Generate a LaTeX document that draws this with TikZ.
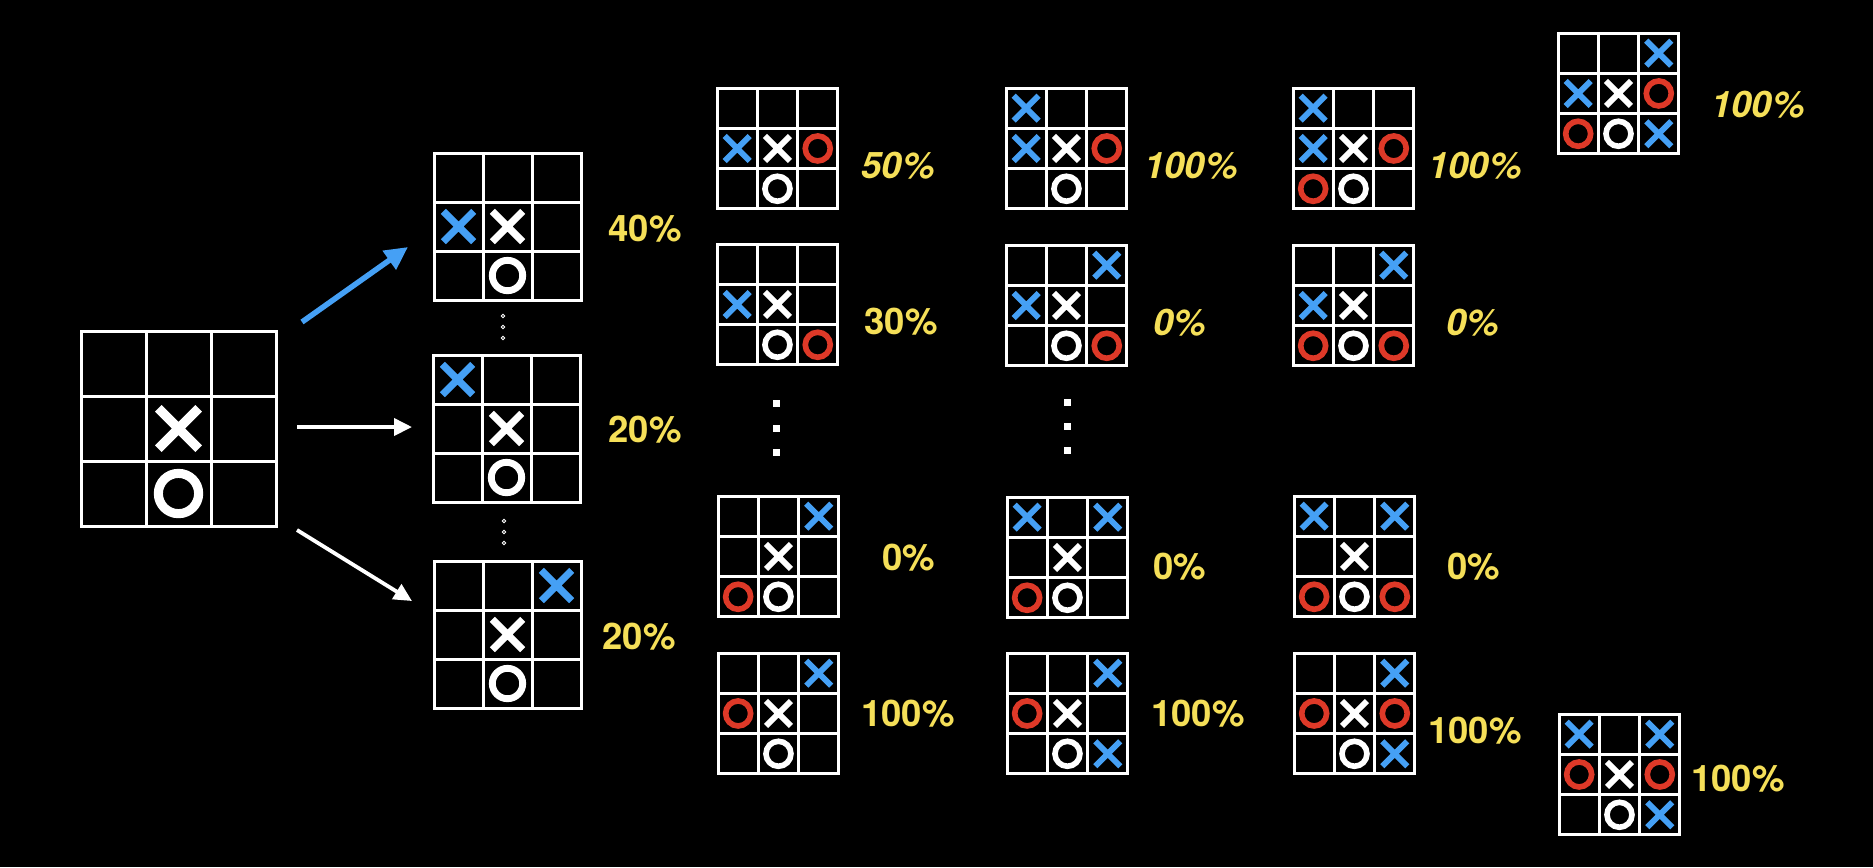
\documentclass[tikz,border=0pt]{standalone}
\usepackage{fontspec}
\setmainfont{TeX Gyre Heros}
\usepackage{tikz}
\usetikzlibrary{arrows.meta, shapes.misc, positioning}
\definecolor{xblue}{RGB}{69,160,245}
\definecolor{ored}{RGB}{222,57,40}
\definecolor{pctyellow}{RGB}{245,223,88}
\tikzset{%
	board/.style={draw=white, line width=0.3mm, inner sep=0mm, rectangle},
	gridline/.style={white, line width=0.3mm},
	xmark/.style={cross out, draw, inner sep=0mm, outer sep=0mm, minimum size=0.62mm*\cellsz, line width=0.145mm*\cellsz},
	omark/.style={circle, draw, inner sep=0mm, outer sep=0mm, minimum size=0.62mm*\cellsz, line width=0.14mm*\cellsz},
	bx/.style={xmark, draw=xblue},
	wx/.style={xmark, draw=white},
	ro/.style={omark, draw=ored},
	wo/.style={omark, draw=white},
	pct/.style={text=pctyellow, font=\bfseries\fontsize{10.4}{12}\selectfont, inner sep=0mm},
	pcti/.style={pct, font=\bfseries\itshape\fontsize{10.4}{12}\selectfont},
	ring/.style={circle, draw=white, line width=0.1mm, inner sep=0mm, minimum size=0.35mm},
	sqdot/.style={rectangle, fill=white, inner sep=0mm, minimum size=0.7mm},
	move/.style={draw=white, line width=0.38mm, -{Triangle[length=1.8mm, width=1.7mm]}},
	best/.style={draw=xblue, line width=0.55mm, -{Triangle[length=2.3mm, width=2.2mm]}}
}
% name, top left x, top left y, cell (mm), marks col/row/style
\newcommand{\board}[5]{%
	\begin{scope}[shift={(#2,#3)}, x=#4mm, y=-#4mm]
		\def\cellsz{#4}
		\node[board, minimum size=3*#4mm] (#1) at (1.5,1.5) {};
		\draw[gridline] (1,0) -- (1,3) (2,0) -- (2,3) (0,1) -- (3,1) (0,2) -- (3,2);
		\foreach \col/\row/\mk in {#5}
			\node[\mk] at (\col-0.5,\row-0.5) {};
	\end{scope}}

\begin{document}
\begin{tikzpicture}[x=0.1mm, y=-0.1mm]
	\fill[black] (0,0) rectangle (1873,867);
	\useasboundingbox (0,0) rectangle (1873,867);

	\board{root}{81}{331}{6.5}{2/2/wx, 2/3/wo}

	\board{a1}{434}{153}{4.9}{1/2/bx, 2/2/wx, 2/3/wo}
	\board{a2}{433}{355}{4.9}{1/1/bx, 2/2/wx, 2/3/wo}
	\board{a3}{434}{561}{4.9}{3/1/bx, 2/2/wx, 2/3/wo}

	\board{b1}{717}{88}{4.03}{1/2/bx, 2/2/wx, 3/2/ro, 2/3/wo}
	\board{b2}{717}{244}{4.03}{1/2/bx, 2/2/wx, 2/3/wo, 3/3/ro}
	\board{b3}{718}{496}{4.03}{3/1/bx, 2/2/wx, 1/3/ro, 2/3/wo}
	\board{b4}{718}{653}{4.03}{3/1/bx, 1/2/ro, 2/2/wx, 2/3/wo}

	\board{c1}{1006}{88}{4.03}{1/1/bx, 1/2/bx, 2/2/wx, 3/2/ro, 2/3/wo}
	\board{c2}{1006}{245}{4.03}{3/1/bx, 1/2/bx, 2/2/wx, 2/3/wo, 3/3/ro}
	\board{c3}{1007}{497}{4.03}{1/1/bx, 3/1/bx, 2/2/wx, 1/3/ro, 2/3/wo}
	\board{c4}{1007}{653}{4.03}{3/1/bx, 1/2/ro, 2/2/wx, 2/3/wo, 3/3/bx}

	\board{d1}{1293}{88}{4.03}{1/1/bx, 1/2/bx, 2/2/wx, 3/2/ro, 1/3/ro, 2/3/wo}
	\board{d2}{1293}{245}{4.03}{3/1/bx, 1/2/bx, 2/2/wx, 1/3/ro, 2/3/wo, 3/3/ro}
	\board{d3}{1294}{496}{4.03}{1/1/bx, 3/1/bx, 2/2/wx, 1/3/ro, 2/3/wo, 3/3/ro}
	\board{d4}{1294}{653}{4.03}{3/1/bx, 1/2/ro, 2/2/wx, 3/2/ro, 2/3/wo, 3/3/bx}

	\board{e1}{1558}{33}{4.03}{3/1/bx, 1/2/bx, 2/2/wx, 3/2/ro, 1/3/ro, 2/3/wo, 3/3/bx}
	\board{e2}{1559}{714}{4.03}{1/1/bx, 3/1/bx, 1/2/ro, 2/2/wx, 3/2/ro, 2/3/wo, 3/3/bx}

	\coordinate (s1) at (302,322);
	\coordinate (t1) at (408,247);
	\coordinate (s2) at (297,427);
	\coordinate (t2) at (412,427);
	\coordinate (s3) at (297,530);
	\coordinate (t3) at (412,601);
	\draw[best] (s1) -- (t1);
	\draw[move] (s2) -- (t2);
	\draw[move] (s3) -- (t3);

	\foreach \y [count=\i] in {316,327,338}
		\node[ring] (da\i) at (503,\y) {};
	\foreach \y [count=\i] in {521,532,543}
		\node[ring] (db\i) at (504,\y) {};
	\foreach \y [count=\i] in {403,428,452}
		\node[sqdot] (dc\i) at (776,\y) {};
	\foreach \y [count=\i] in {402,426,450}
		\node[sqdot] (dd\i) at (1067,\y) {};

	\node[pct]  (la1) at (645,229) {40\%};
	\node[pct]  (la2) at (645,430) {20\%};
	\node[pct]  (la3) at (639,637) {20\%};
	\node[pcti] (lb1) at (898,166) {50\%};
	\node[pct]  (lb2) at (901,322) {30\%};
	\node[pct]  (lb3) at (909,558) {0\%};
	\node[pct]  (lb4) at (908,714) {100\%};
	\node[pcti] (lc1) at (1191,166) {100\%};
	\node[pcti] (lc2) at (1180,323) {0\%};
	\node[pct]  (lc3) at (1180,567) {0\%};
	\node[pct]  (lc4) at (1198,714) {100\%};
	\node[pcti] (ld1) at (1475,166) {100\%};
	\node[pcti] (ld2) at (1473,323) {0\%};
	\node[pct]  (ld3) at (1474,567) {0\%};
	\node[pct]  (ld4) at (1475,731) {100\%};
	\node[pcti] (le1) at (1758,105) {100\%};
	\node[pct]  (le2) at (1738,779) {100\%};
\end{tikzpicture}
\end{document}
